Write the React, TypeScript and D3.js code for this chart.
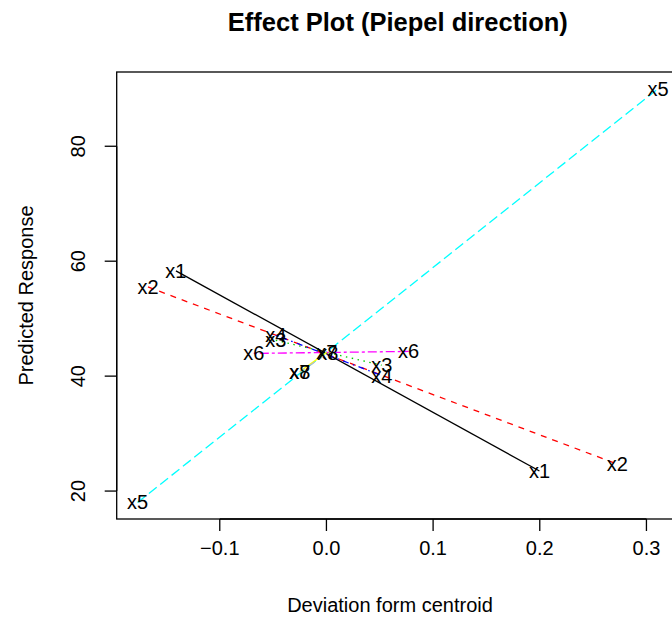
import React, { useEffect, useRef } from "react"
import * as d3 from "d3"

// endpoints of each component's effect trace (deviation from centroid, predicted response)
const components = ["x1", "x2", "x3", "x4", "x5", "x6", "x7", "x8"]
const devStart = [-0.1411, -0.1673, -0.0475, -0.0475, -0.1771, -0.0681, -0.025, -0.025]
const devEnd = [0.1997, 0.2728, 0.0518, 0.0518, 0.311, 0.0771, 0.0003, 0.0012]
const respStart = [58.32, 55.52, 46.23, 47.11, 18.02, 43.95, 40.8, 40.71]
const respEnd = [23.5, 24.68, 41.9, 40.1, 90.04, 44.3, 44.13, 43.95]
const colors = ["black", "red", "#00CD00", "blue", "cyan", "magenta", "yellow", "#BEBEBE"]
const dashes = ["", "6,6", "1.5,4.5", "1.5,4.5,6,4.5", "10,4.5", "3,3,9,3", "", "6,6"]
const xTicks = [-0.1, 0.0, 0.1, 0.2, 0.3]
const yTicks = [20, 40, 60, 80]

const W = 672
const H = 625

export default function App() {
    const ref = useRef<SVGSVGElement>(null)

    useEffect(() => {
        const svg = d3.select(ref.current)
        svg.selectAll("*").remove()
        const font = "Liberation Sans, Arial, Helvetica, sans-serif"
        const left = 116.7, right = 679, top = 72, bottom = 519

        // R style 4% extension of the data range
        const allX = devStart.concat(devEnd)
        const allY = respStart.concat(respEnd)
        const xmin = d3.min(allX)!, xmax = d3.max(allX)!
        const ymin = d3.min(allY)!, ymax = d3.max(allY)!
        const dx = (xmax - xmin) * 0.04
        const dy = (ymax - ymin) * 0.04
        const x = d3.scaleLinear().domain([xmin - dx, xmax + dx]).range([left, right])
        const y = d3.scaleLinear().domain([ymin - dy, ymax + dy]).range([bottom, top])

        svg.append("rect").attr("width", W).attr("height", H).attr("fill", "white")

        const plot = svg.append("g")
        components.forEach((name, i) => {
            plot.append("line")
                .attr("x1", x(devStart[i]))
                .attr("y1", y(respStart[i]))
                .attr("x2", x(devEnd[i]))
                .attr("y2", y(respEnd[i]))
                .attr("stroke", colors[i])
                .attr("stroke-width", 1.3)
                .attr("stroke-dasharray", dashes[i] || null)
            ;[[devStart[i], respStart[i]], [devEnd[i], respEnd[i]]].forEach(p => {
                plot.append("text")
                    .attr("x", x(p[0]))
                    .attr("y", y(p[1]))
                    .attr("text-anchor", "middle")
                    .attr("dominant-baseline", "central")
                    .attr("font-family", font)
                    .attr("font-size", 20)
                    .text(name)
            })
        })

        // box
        svg.append("rect")
            .attr("x", left).attr("y", top)
            .attr("width", right - left).attr("height", bottom - top)
            .attr("fill", "none").attr("stroke", "black").attr("stroke-width", 1.3)

        // x axis
        const xa = svg.append("g")
        xa.append("line")
            .attr("x1", x(xTicks[0])).attr("x2", x(xTicks[xTicks.length - 1]))
            .attr("y1", bottom).attr("y2", bottom)
            .attr("stroke", "black").attr("stroke-width", 1.3)
        xTicks.forEach(t => {
            xa.append("line")
                .attr("x1", x(t)).attr("x2", x(t))
                .attr("y1", bottom).attr("y2", bottom + 12)
                .attr("stroke", "black").attr("stroke-width", 1.3)
            xa.append("text")
                .attr("x", x(t)).attr("y", 548)
                .attr("text-anchor", "middle")
                .attr("dominant-baseline", "central")
                .attr("font-family", font).attr("font-size", 20)
                .text(d3.format(".1f")(t).replace("-", "\u2212"))
        })

        // y axis
        const ya = svg.append("g")
        ya.append("line")
            .attr("x1", left).attr("x2", left)
            .attr("y1", y(yTicks[0])).attr("y2", y(yTicks[yTicks.length - 1]))
            .attr("stroke", "black").attr("stroke-width", 1.3)
        yTicks.forEach(t => {
            ya.append("line")
                .attr("x1", left - 12).attr("x2", left)
                .attr("y1", y(t)).attr("y2", y(t))
                .attr("stroke", "black").attr("stroke-width", 1.3)
            ya.append("text")
                .attr("transform", `translate(78,${y(t)}) rotate(-90)`)
                .attr("text-anchor", "middle")
                .attr("dominant-baseline", "central")
                .attr("font-family", font).attr("font-size", 20)
                .text(String(t))
        })

        // titles
        svg.append("text")
            .attr("x", (left + right) / 2).attr("y", 22)
            .attr("text-anchor", "middle").attr("dominant-baseline", "central")
            .attr("font-family", font).attr("font-size", 25.5).attr("font-weight", "bold")
            .text("Effect Plot (Piepel direction)")
        svg.append("text")
            .attr("x", 390).attr("y", 605)
            .attr("text-anchor", "middle").attr("dominant-baseline", "central")
            .attr("font-family", font).attr("font-size", 20)
            .text("Deviation form centroid")
        svg.append("text")
            .attr("transform", `translate(26,${(top + bottom) / 2}) rotate(-90)`)
            .attr("text-anchor", "middle").attr("dominant-baseline", "central")
            .attr("font-family", font).attr("font-size", 20)
            .text("Predicted Response")
    }, [])

    return (
        <svg ref={ref} width={W} height={H}
            style={{ position: "absolute", left: 0, top: 0, display: "block" }} />
    )
}
